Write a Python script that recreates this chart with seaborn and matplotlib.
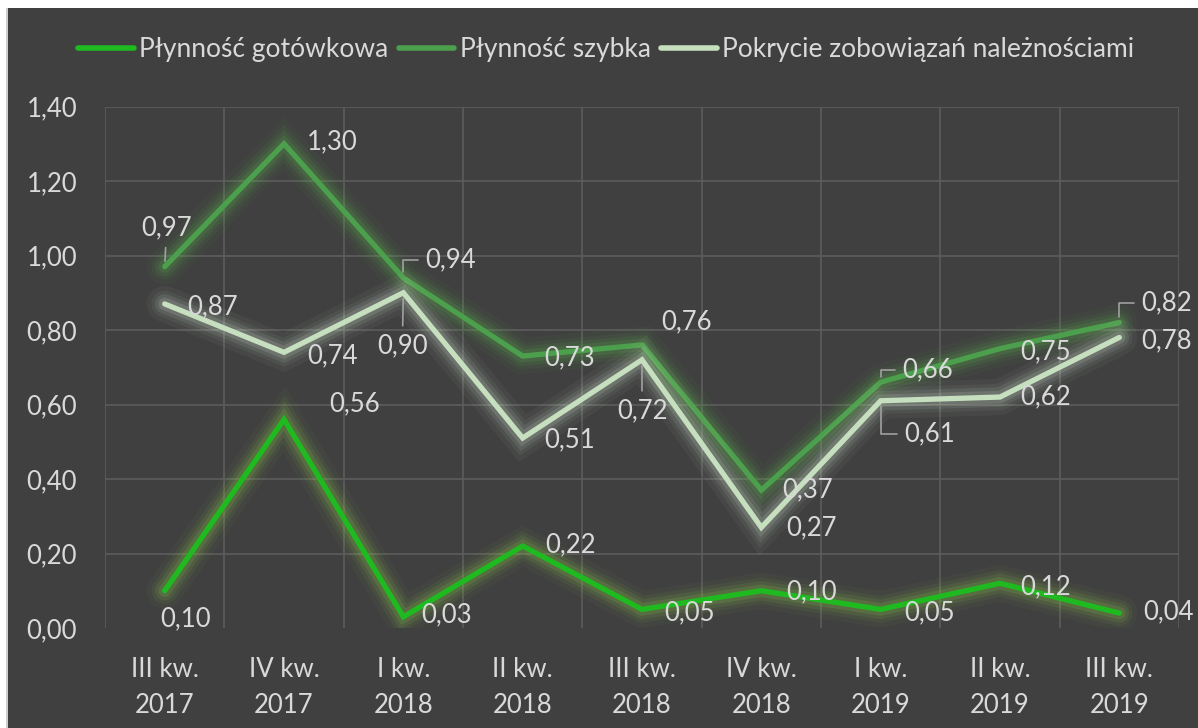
import matplotlib
matplotlib.use("Agg")
import matplotlib.pyplot as plt
import matplotlib.patheffects as pe
from matplotlib.lines import Line2D
from matplotlib.patches import Rectangle
import seaborn as sns
import pandas as pd
import numpy as np

# ---------------- data ----------------
quarters = ["III kw.\n2017", "IV kw.\n2017", "I kw.\n2018", "II kw.\n2018", "III kw.\n2018",
            "IV kw.\n2018", "I kw.\n2019", "II kw.\n2019", "III kw.\n2019"]
series_names = ["Płynność gotówkowa", "Płynność szybka", "Pokrycie zobowiązań należnościami"]
gotowkowa = [0.10, 0.56, 0.03, 0.22, 0.05, 0.10, 0.05, 0.12, 0.04]
szybka = [0.97, 1.30, 0.94, 0.73, 0.76, 0.37, 0.66, 0.75, 0.82]
pokrycie = [0.87, 0.74, 0.90, 0.51, 0.72, 0.27, 0.61, 0.62, 0.78]
y_ticks = [0.0, 0.2, 0.4, 0.6, 0.8, 1.0, 1.2, 1.4]

# ---------------- style ----------------
line_colors = ["#1fba1f", "#4c9f4c", "#c6dfbf"]
glow_colors = ["#8fd24a", "#5fb84f", "#d8ecd0"]
bg = "#404040"
txt = "#d9d9d9"
grid_c = "#5c5c5c"
FONT = "Lato"
FS = 18.5
FS_LEG = 19

# label offsets in pixels (dx, dy); leader style per label
offsets = [
    [(21, -28), (71, 16), (43, 2), (48, 1), (48, -3), (50, -1), (49, -3), (46, -4), (49, 1)],
    [(2, 39), (48, 2), (47, 18), (47, -2), (45, 23), (46, 0), (47, 12), (46, -3), (47, 20)],
    [(48, -3), (48, -3), (-1, -53), (47, -2), (0, -51), (50, 0), (49, -33), (46, 0), (47, -3)],
]
ELB = "angle,angleA=0,angleB=90,rad=0"
STR = "arc3,rad=0"
leaders = [
    {},
    {0: STR, 2: ELB, 6: ELB, 8: ELB},
    {2: STR, 4: STR, 6: ELB},
]

sns.set_theme(style="dark")
plt.rcParams["font.family"] = [FONT, "DejaVu Sans"]

df = pd.DataFrame({
    "kw": quarters * 3,
    "value": gotowkowa + szybka + pokrycie,
    "series": [series_names[0]] * 9 + [series_names[1]] * 9 + [series_names[2]] * 9,
})

fig = plt.figure(figsize=(11.98, 7.28), dpi=100)
fig.patch.set_facecolor("white")
fig.patches.append(Rectangle((6 / 1198, 0), 2 / 1198, 1 - 8 / 728, transform=fig.transFigure,
                             facecolor="#cfcfcf", edgecolor="none", zorder=-10))
fig.patches.append(Rectangle((8 / 1198, 0), 1 - 8 / 1198, 1 - 8 / 728, transform=fig.transFigure,
                             facecolor=bg, edgecolor="none", zorder=-10))

ax = fig.add_axes([105 / 1198, 1 - 628 / 728, (1179 - 105) / 1198, (628 - 106.5) / 728])
ax.set_facecolor("none")
ax.set_zorder(1)

sns.lineplot(data=df, x="kw", y="value", hue="series", hue_order=series_names,
             palette=line_colors, linewidth=3.8, sort=False, ax=ax, legend=False)

for ln, gc in zip(ax.lines[:3], glow_colors):
    ln.set_solid_joinstyle("miter")
    ln.set_path_effects([
        pe.Stroke(linewidth=26, foreground=gc, alpha=0.045),
        pe.Stroke(linewidth=19, foreground=gc, alpha=0.065),
        pe.Stroke(linewidth=14, foreground=gc, alpha=0.1),
        pe.Stroke(linewidth=9, foreground=gc, alpha=0.15),
        pe.Normal(),
    ])

ax.set_xlim(-0.5, len(quarters) - 0.5)
ax.set_ylim(0, 1.4)
ax.set_yticks(y_ticks)
ax.set_yticklabels([f"{v:.2f}".replace(".", ",") for v in y_ticks], color=txt,
                   fontsize=FS, fontfamily=FONT)
ax.set_xticks(range(len(quarters)))
ax.set_xticklabels(quarters, color=txt, fontsize=FS, fontfamily=FONT, linespacing=1.55)
ax.tick_params(axis="both", length=0)
ax.tick_params(axis="y", pad=20)
ax.tick_params(axis="x", pad=21)
ax.set_xlabel("")
ax.set_ylabel("")
for s in ax.spines.values():
    s.set_visible(False)

ax.grid(False)
for b in np.arange(-0.5, len(quarters), 1.0):
    ax.axvline(b, color=grid_c, lw=1.2, zorder=0)
for v in y_ticks[1:]:
    ax.axhline(v, color=grid_c, lw=1.2, zorder=0)

all_vals = [gotowkowa, szybka, pokrycie]
for si, vals in enumerate(all_vals):
    for i, v in enumerate(vals):
        dx, dy = offsets[si][i]
        label = f"{v:.2f}".replace(".", ",")
        kw = {}
        if i in leaders[si]:
            kw["arrowprops"] = dict(arrowstyle="-", color="#a0a0a0", lw=1.2,
                                    shrinkA=3, shrinkB=4,
                                    connectionstyle=leaders[si][i])
        ax.annotate(label, xy=(i, v), xytext=(dx, dy), textcoords="offset pixels",
                    ha="center", va="center", color=txt, fontsize=FS, fontfamily=FONT,
                    zorder=5, **kw)

handles = [Line2D([0], [0], color=c, lw=4) for c in line_colors]
fig.legend(handles, series_names, loc="center", bbox_to_anchor=(0.506, 1 - 50 / 728),
           ncol=3, frameon=False, handlelength=2.1, handletextpad=0.2, columnspacing=0.4,
           prop={"family": FONT, "size": FS_LEG}, labelcolor=txt)

fig.savefig("out.png", dpi=100, facecolor=fig.get_facecolor())
